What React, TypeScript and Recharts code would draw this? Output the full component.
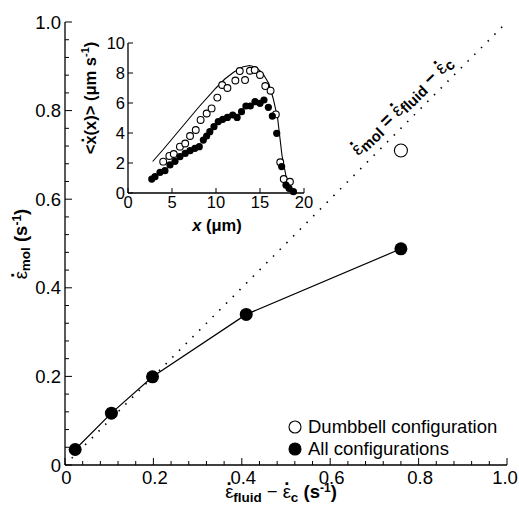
import React from 'react';
import { ScatterChart, Scatter, XAxis, YAxis } from 'recharts';

// main panel
const allConfigX = [0.023, 0.105, 0.198, 0.41, 0.76];
const allConfigY = [0.035, 0.117, 0.199, 0.34, 0.488];
const dumbbellX = [0.76];
const dumbbellY = [0.71];
const identityX = [0, 1];
const identityY = [0, 1];
const mainMajorTicks = [0, 0.2, 0.4, 0.6, 0.8, 1.0];
const mainTickLabels = ['0', '0.2', '0.4', '0.6', '0.8', '1.0'];
const legendNames = ['Dumbbell configuration', 'All configurations'];

// inset
const insetCurveX = [2.8, 4, 6, 8, 10, 11, 12, 13, 13.8, 14.5, 15.3, 16, 16.5, 17, 17.5, 18, 18.6];
const insetCurveY = [2.1, 2.9, 4.3, 5.7, 7.0, 7.6, 8.05, 8.4, 8.5, 8.4, 8.0, 7.3, 6.3, 5.0, 2.5, 1.0, 0.2];
const insetOpenX = [4.0, 4.7, 5.2, 5.9, 6.5, 7.05, 7.7, 8.25, 8.94, 9.5, 10.15, 10.7, 11.3, 12.2, 12.7, 13.3, 13.86, 14.4, 15.0, 15.6, 16.2, 16.8, 17.3, 17.7, 18.4];
const insetOpenY = [2.09, 2.47, 2.6, 3.09, 3.3, 3.8, 4.2, 4.87, 5.3, 5.64, 6.36, 7.2, 7.0, 7.5, 8.13, 7.53, 8.15, 8.2, 7.87, 7.13, 6.82, 5.24, 2.05, 0.93, 0.75];
const insetFilledX = [2.7, 3.07, 3.64, 4.2, 4.77, 5.34, 5.9, 6.5, 7.05, 7.6, 8.1, 8.56, 8.94, 9.3, 9.77, 10.26, 10.76, 11.3, 11.9, 12.4, 12.9, 13.4, 13.9, 14.43, 15.0, 15.45, 15.95, 16.4, 16.9, 17.46, 17.95, 18.3, 18.8];
const insetFilledY = [0.93, 1.09, 1.38, 1.49, 1.87, 2.11, 2.42, 2.64, 2.82, 2.98, 3.09, 3.53, 3.8, 4.09, 4.42, 4.76, 4.91, 5.04, 5.2, 5.04, 5.42, 5.8, 5.8, 6.09, 5.98, 6.2, 5.71, 5.13, 3.98, 1.76, 0.53, 0.31, 0.09];
const insetXTicks = [0, 5, 10, 15, 20];
const insetYTicks = [0, 2, 4, 6, 8, 10];

const FONT = '"Liberation Sans", Arial, Helvetica, sans-serif';

const toPoints = (xs: number[], ys: number[]) => xs.map((x, i) => ({ x, y: ys[i] }));

// minor ticks every 0.04
const mainAllTicks = Array.from({ length: 26 }, (_, i) => Math.round(i * 4) / 100);
const isMajor = (v: number) => mainMajorTicks.some(m => Math.abs(m - v) < 1e-6);
const labelFor = (v: number) => mainTickLabels[mainMajorTicks.findIndex(m => Math.abs(m - v) < 1e-6)];

const noShape = () => <g />;

const openDot = (r: number) => (p: any) => (
  <circle cx={p.cx} cy={p.cy} r={r} fill="#fff" stroke="#000" strokeWidth={1.1} />
);
const filledDot = (r: number) => (p: any) => <circle cx={p.cx} cy={p.cy} r={r} fill="#000" />;

// dotted epsilon: epsilon followed by a bold period raised over it
function Eps({ size }: { size: number }) {
  return (
    <>
      <tspan fontWeight="normal">ε</tspan>
      <tspan fontWeight="bold" dx={-0.37 * size} dy={-0.68 * size}>.</tspan>
    </>
  );
}

function MainTick(props: any) {
  const { x, y, payload, side } = props;
  const v = payload.value;
  const major = isMajor(v);
  const len = major ? 7 : 4;
  if (side === 'bottom') {
    return (
      <g>
        <line x1={x} x2={x} y1={y} y2={y - len} stroke="#000" strokeWidth={1} />
        {major && (
          <text x={x + (v > 0.9 ? -2 : 1.5)} y={y + 19} textAnchor="middle" fontSize={18.5} fontFamily={FONT} fill="#000">
            {labelFor(v)}
          </text>
        )}
      </g>
    );
  }
  if (side === 'top') {
    return <line x1={x} x2={x} y1={y} y2={y + len} stroke="#000" strokeWidth={1} />;
  }
  if (side === 'left') {
    return (
      <g>
        <line x1={x} x2={x + len} y1={y} y2={y} stroke="#000" strokeWidth={1} />
        {major && (
          <text x={x - 4} y={y + 6.5} textAnchor="end" fontSize={18.5} fontFamily={FONT} fill="#000">
            {labelFor(v)}
          </text>
        )}
      </g>
    );
  }
  return <line x1={x} x2={x - len} y1={y} y2={y} stroke="#000" strokeWidth={1} />;
}

function InsetTick(props: any) {
  const { x, y, payload, side } = props;
  const v = payload.value;
  const len = 5;
  if (side === 'bottom') {
    return (
      <g>
        <line x1={x} x2={x} y1={y} y2={y - len} stroke="#000" />
        <text x={x} y={y + 15} textAnchor="middle" fontSize={16.5} fontFamily={FONT} fill="#000">{v}</text>
      </g>
    );
  }
  if (side === 'top') return <line x1={x} x2={x} y1={y} y2={y + len} stroke="#000" />;
  if (side === 'left') {
    return (
      <g>
        <line x1={x} x2={x + len} y1={y} y2={y} stroke="#000" />
        <text x={x - 3} y={y + 6} textAnchor="end" fontSize={16.5} fontFamily={FONT} fill="#000">{v}</text>
      </g>
    );
  }
  return <line x1={x} x2={x - len} y1={y} y2={y} stroke="#000" />;
}

const MainXLabel = () => (
  <text x={281} y={498} textAnchor="middle" fontSize={18.5} fontFamily={FONT} fill="#000">
    <Eps size={18.5} />
    <tspan fontWeight="bold" fontSize={13.5} dx={1.5} dy={0.68 * 18.5 + 4}>fluid</tspan>
    <tspan dy={-4}> − </tspan>
    <Eps size={18.5} />
    <tspan fontWeight="bold" fontSize={13.5} dx={1.5} dy={0.68 * 18.5 + 4}>c</tspan>
    <tspan fontWeight="bold" dy={-4}> (s</tspan>
    <tspan fontWeight="bold" fontSize={12} dy={-6}>-1</tspan>
    <tspan fontWeight="bold" dy={6}>)</tspan>
  </text>
);

const MainYLabel = () => (
  <text x={0} y={0} transform="translate(27,244) rotate(-90)" textAnchor="middle" fontSize={18.5} fontFamily={FONT} fill="#000">
    <Eps size={18.5} />
    <tspan fontWeight="bold" fontSize={13.5} dx={1.5} dy={0.68 * 18.5 + 3}>mol</tspan>
    <tspan fontWeight="bold" dy={-3}> (s</tspan>
    <tspan fontWeight="bold" fontSize={12} dy={-6}>-1</tspan>
    <tspan fontWeight="bold" dy={6}>)</tspan>
  </text>
);

const EquationLabel = () => (
  <text x={0} y={0} transform="translate(406,110) rotate(-44)" textAnchor="middle" fontSize={18.5} fontFamily={FONT} fill="#000">
    <Eps size={18.5} />
    <tspan fontWeight="bold" fontSize={15} dx={1.5} dy={0.68 * 18.5 + 3}>mol</tspan>
    <tspan fontWeight="bold" dy={-3}> = </tspan>
    <Eps size={18.5} />
    <tspan fontWeight="bold" fontSize={15} dx={1.5} dy={0.68 * 18.5 + 3}>fluid</tspan>
    <tspan fontWeight="bold" dy={-3}> − </tspan>
    <Eps size={18.5} />
    <tspan fontWeight="bold" fontSize={15} dx={1.5} dy={0.68 * 18.5 + 3}>c</tspan>
  </text>
);

const InsetXLabel = () => (
  <text x={147} y={211} textAnchor="middle" fontSize={16.5} fontFamily={FONT} fontWeight="bold" fill="#000">
    <tspan fontStyle="italic">x</tspan>
    <tspan> (μm)</tspan>
  </text>
);

const InsetYLabel = () => (
  <text x={0} y={0} transform="translate(26,78) rotate(-90)" textAnchor="middle" fontSize={16.5} fontFamily={FONT} fontWeight="bold" fill="#000">
    <tspan>&lt;</tspan>
    <tspan>x</tspan>
    <tspan dx={-0.43 * 16.5} dy={-0.72 * 16.5}>.</tspan>
    <tspan dx={0.15 * 16.5} dy={0.72 * 16.5}>(</tspan>
    <tspan>x)&gt; (μm s</tspan>
    <tspan fontSize={11} dy={-7}>-1</tspan>
    <tspan dy={7}>)</tspan>
  </text>
);

function LegendBox() {
  return (
    <div style={{ position: 'absolute', left: 288, top: 416, fontFamily: FONT, fontSize: 18.5, color: '#000', lineHeight: '22px' }}>
      {legendNames.map((name, i) => (
        <div key={name} style={{ display: 'flex', alignItems: 'center', height: 22 }}>
          <svg width={14} height={14} style={{ marginRight: 6 }}>
            <circle cx={7} cy={7} r={6} fill={i === 0 ? '#fff' : '#000'} stroke="#000" strokeWidth={1.1} />
          </svg>
          <span>{name}</span>
        </div>
      ))}
    </div>
  );
}

const frame = { stroke: '#000', strokeWidth: 1.3 };

export default function App() {
  const allConfig = toPoints(allConfigX, allConfigY);
  const dumbbell = toPoints(dumbbellX, dumbbellY);
  const identity = toPoints(identityX, identityY);
  const curve = toPoints(insetCurveX, insetCurveY);
  const openPts = toPoints(insetOpenX, insetOpenY);
  const filledPts = toPoints(insetFilledX, insetFilledY);

  return (
    <div style={{ position: 'absolute', left: 0, top: 0, width: 519, height: 509, background: '#fff' }}>
      <ScatterChart width={519} height={509} margin={{ top: 22, right: 12, bottom: 0, left: 0 }}>
        <XAxis xAxisId="b" type="number" dataKey="x" domain={[0, 1]} ticks={mainAllTicks} interval={0}
          height={44} tickSize={0} tickMargin={0} tickLine={false} axisLine={frame}
          tick={(p: any) => <MainTick {...p} side="bottom" />}
          label={{ content: () => <g><MainXLabel /><EquationLabel /></g> }} />
        <XAxis xAxisId="t" orientation="top" type="number" dataKey="x" domain={[0, 1]} ticks={mainAllTicks} interval={0}
          height={0} tickSize={0} tickMargin={0} tickLine={false} axisLine={frame}
          tick={(p: any) => <MainTick {...p} side="top" />} />
        <YAxis yAxisId="l" type="number" dataKey="y" domain={[0, 1]} ticks={mainAllTicks} interval={0}
          width={65} tickSize={0} tickMargin={0} tickLine={false} axisLine={frame}
          tick={(p: any) => <MainTick {...p} side="left" />} label={{ content: () => <MainYLabel /> }} />
        <YAxis yAxisId="r" orientation="right" type="number" dataKey="y" domain={[0, 1]} ticks={mainAllTicks} interval={0}
          width={0} tickSize={0} tickMargin={0} tickLine={false} axisLine={frame}
          tick={(p: any) => <MainTick {...p} side="right" />} />
        <Scatter xAxisId="b" yAxisId="l" data={identity} isAnimationActive={false} shape={noShape}
          line={{ stroke: '#000', strokeWidth: 1.6, strokeDasharray: '1.5 8' }} />
        <Scatter xAxisId="t" yAxisId="r" data={dumbbell} isAnimationActive={false} shape={openDot(6.5)} />
        <Scatter xAxisId="b" yAxisId="l" data={allConfig} isAnimationActive={false} shape={filledDot(6.5)}
          line={{ stroke: '#000', strokeWidth: 1.2 }} />
      </ScatterChart>

      <LegendBox />

      <div style={{ position: 'absolute', left: 70, top: 20 }}>
        <ScatterChart width={250} height={220} margin={{ top: 23, right: 16, bottom: 0, left: 0 }}>
          <XAxis xAxisId="b" type="number" dataKey="x" domain={[0, 20]} ticks={insetXTicks} interval={0}
            height={47} tickSize={0} tickMargin={0} tickLine={false} axisLine={frame}
            tick={(p: any) => <InsetTick {...p} side="bottom" />} label={{ content: () => <InsetXLabel /> }} />
          <XAxis xAxisId="t" orientation="top" type="number" dataKey="x" domain={[0, 20]} ticks={insetXTicks} interval={0}
            height={0} tickSize={0} tickMargin={0} tickLine={false} axisLine={frame}
            tick={(p: any) => <InsetTick {...p} side="top" />} />
          <YAxis yAxisId="l" type="number" dataKey="y" domain={[0, 10]} ticks={insetYTicks} interval={0}
            width={58} tickSize={0} tickMargin={0} tickLine={false} axisLine={frame}
            tick={(p: any) => <InsetTick {...p} side="left" />} label={{ content: () => <InsetYLabel /> }} />
          <YAxis yAxisId="r" orientation="right" type="number" dataKey="y" domain={[0, 10]} ticks={insetYTicks} interval={0}
            width={0} tickSize={0} tickMargin={0} tickLine={false} axisLine={frame}
            tick={(p: any) => <InsetTick {...p} side="right" />} />
          <Scatter xAxisId="b" yAxisId="l" data={curve} isAnimationActive={false} shape={noShape}
            line={{ stroke: '#000', strokeWidth: 1.1 }} lineType="joint" />
          <Scatter xAxisId="t" yAxisId="r" data={openPts} isAnimationActive={false} shape={openDot(3.4)} />
          <Scatter xAxisId="b" yAxisId="l" data={filledPts} isAnimationActive={false} shape={filledDot(3.6)} />
        </ScatterChart>
      </div>
    </div>
  );
}
